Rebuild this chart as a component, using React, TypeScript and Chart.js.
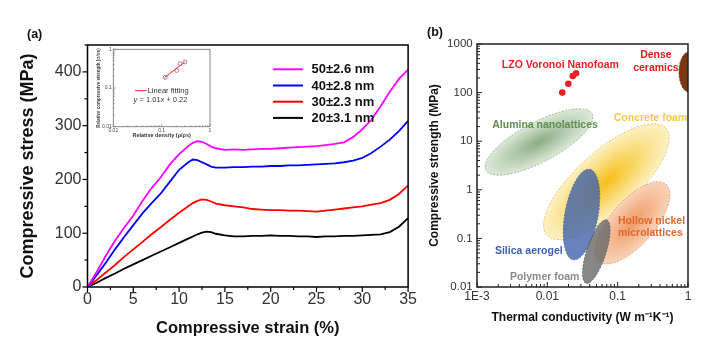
import React, { useEffect, useRef } from 'react';
import { Chart, registerables } from 'chart.js';

Chart.register(...registerables);

const FONT = "'Liberation Sans', Arial, Helvetica, sans-serif";
Chart.defaults.font.family = FONT;
Chart.defaults.color = '#333';

// ---------- Panel (a): stress-strain curves ----------
const strain = [0, 1, 2, 3, 4, 5, 6, 7, 8, 9, 10, 11, 11.5, 12, 12.5, 13, 13.5, 14, 15, 16, 17, 18, 19, 20, 21, 22, 23, 24, 25, 26, 27, 28, 29, 30, 31, 32, 33, 34, 35];
const stress50 = [0, 28, 58, 86, 110, 133, 160, 184, 204, 228, 247, 262, 268, 271, 270, 266, 261, 258, 255, 256, 255, 256, 257, 257, 258, 259, 260, 261, 262, 264, 266, 269, 279, 293, 311, 336, 363, 387, 404];
const stress40 = [0, 22, 45, 70, 93, 115, 137, 156, 174, 196, 218, 232, 237, 236, 232, 228, 224, 222, 222, 223, 223, 224, 224, 225, 225, 226, 226, 227, 228, 229, 230, 232, 235, 240, 249, 261, 274, 290, 309];
const stress30 = [0, 13, 27, 41, 56, 70, 84, 98, 111, 125, 138, 150, 156, 160, 163, 162, 159, 155, 152, 150, 148, 145, 144, 143, 143, 142, 142, 141, 140, 142, 144, 146, 148, 150, 153, 156, 162, 173, 189];
const stress20 = [0, 8, 17, 25, 34, 42, 50, 58, 66, 74, 82, 90, 94, 98, 101, 103, 102, 99, 96, 94, 94, 95, 95, 96, 95, 95, 94, 94, 93, 94, 94, 95, 95, 96, 97, 98, 102, 112, 128];
const seriesLabels = ['50±2.6 nm', '40±2.8 nm', '30±2.3 nm', '20±3.1 nm'];
const seriesColors = ['#ff00ff', '#0000ff', '#ff0000', '#000000'];
const seriesValues = [stress50, stress40, stress30, stress20];
const strainTicks = [0, 5, 10, 15, 20, 25, 30, 35];
const stressTicks = [0, 100, 200, 300, 400];

// ---------- Inset ----------
const relDensity = [0.119, 0.205, 0.24, 0.304];
const relStrength = [0.189, 0.284, 0.427, 0.471];
const fitDensity = [0.115, 0.3];
const fitStrength = [0.187, 0.465];

// ---------- Panel (b): Ashby-type map ----------
const lzoK = [0.0163, 0.0199, 0.023, 0.0256];
const lzoS = [100, 152, 220, 250];
const regionNames = ['Alumina nanolattices', 'Concrete foam', 'Hollow nickel microlattices', 'Silica aerogel', 'Polymer foam', 'Dense ceramics'];
const regionCenterK = [0.00762, 0.069, 0.1626, 0.0306, 0.0497, 1.034];
const regionCenterS = [9.63, 1.468, 0.2094, 0.31, 0.0532, 265];
const regionTipK = [0.0432, 0.4836, 0.487, 0.0402, 0.0697, 1.034];
const regionTipS = [36.6, 18.5, 1.298, 2.64, 0.239, 685];
const regionAspect = [0.33, 0.375, 0.43, 0.36, 0.29, 0.5];
const regionInner = ['#8cae86', '#f6c01a', '#f09a66', 'rgba(60,95,170,0.78)', 'rgba(100,100,100,0.78)', '#7a3810'];
const regionOuter = ['#dde9d9', '#fdf2c6', '#f9d3b8', 'rgba(60,95,170,0.78)', 'rgba(100,100,100,0.78)', '#7a3810'];
const regionEdge = ['#86a47f', '#e2b84a', '#dc8a5c', '#4a5f8a', '#5a5a5a', '#6a3010'];

const noteText = ['LZO Voronoi Nanofoam', 'Dense', 'ceramics', 'Alumina nanolattices', 'Concrete foam', 'Hollow nickel', 'microlattices', 'Silica aerogel', 'Polymer foam'];
const noteK = [0.0153, 0.35, 0.35, 0.00927, 0.293, 0.101, 0.101, 0.0018, 0.00294];
const noteS = [370, 594, 316, 21.5, 30, 0.231, 0.127, 0.055, 0.0163];
const noteAlign = ['center', 'center', 'center', 'center', 'center', 'left', 'left', 'left', 'left'];
const noteColor = ['#ea1f26', '#d8201f', '#d8201f', '#5f8d50', '#f4c945', '#e0692b', '#e0692b', '#3d5fb3', '#8a8a8a'];

const kTickValues = [0.001, 0.01, 0.1, 1];
const kTickLabels = ['1E-3', '0.01', '0.1', '1'];
const sTickValues = [0.01, 0.1, 1, 10, 100, 1000];
const sTickLabels = ['0.01', '0.1', '1', '10', '100', '1000'];
const insetTickValues = [0.01, 0.1, 1];
const insetTickLabels = ['0.01', '0.1', '1'];

function logMinor(min: number, max: number) {
  const out: number[] = [];
  for (let e = Math.floor(Math.log10(min)); e <= Math.ceil(Math.log10(max)); e++) {
    for (let m = 2; m <= 9; m++) {
      const v = m * Math.pow(10, e);
      if (v > min && v < max) out.push(v);
    }
  }
  return out;
}

function labelFor(values: number[], labels: string[]) {
  return (v: any) => {
    const n = Number(v);
    for (let i = 0; i < values.length; i++) {
      if (Math.abs(Math.log10(n) - Math.log10(values[i])) < 1e-6) return labels[i];
    }
    return '';
  };
}

// ---------- plugins ----------
const tickMarksPlugin = {
  id: 'tickMarks',
  afterDatasetsDraw(chart: any, _a: any, opts: any) {
    const { ctx, chartArea: ca } = chart;
    ctx.save();
    ctx.strokeStyle = opts.color || '#000';
    ctx.lineWidth = opts.width || 1;
    for (const spec of opts.specs || []) {
      const sc = chart.scales[spec.id];
      const horiz = sc.isHorizontal();
      const draw = (vals: number[], len: number) => {
        for (const v of vals) {
          const p = sc.getPixelForValue(v);
          ctx.beginPath();
          if (horiz) {
            const d = spec.inside ? -len : len;
            ctx.moveTo(p, ca.bottom);
            ctx.lineTo(p, ca.bottom + d);
          } else {
            const d = spec.inside ? len : -len;
            ctx.moveTo(ca.left, p);
            ctx.lineTo(ca.left + d, p);
          }
          ctx.stroke();
        }
      };
      draw(spec.major, spec.majLen);
      draw(spec.minor, spec.minLen);
    }
    ctx.restore();
  },
};

const framePlugin = {
  id: 'frame',
  afterDatasetsDraw(chart: any, _a: any, opts: any) {
    const { ctx, chartArea: ca } = chart;
    ctx.save();
    ctx.strokeStyle = opts.color || '#000';
    ctx.lineWidth = opts.width || 1;
    ctx.strokeRect(ca.left, ca.top, ca.right - ca.left, ca.bottom - ca.top);
    ctx.restore();
  },
};

const panelLabelPlugin = {
  id: 'panelLabel',
  afterDraw(chart: any, _a: any, opts: any) {
    if (!opts.text) return;
    const { ctx } = chart;
    ctx.save();
    ctx.font = `bold 12.5px ${FONT}`;
    ctx.fillStyle = '#111';
    ctx.textBaseline = 'middle';
    ctx.textAlign = 'left';
    ctx.fillText(opts.text, opts.x, opts.y);
    ctx.restore();
  },
};

const seriesLegendPlugin = {
  id: 'seriesLegend',
  afterDatasetsDraw(chart: any) {
    const { ctx, chartArea: ca } = chart;
    ctx.save();
    chart.data.datasets.forEach((ds: any, i: number) => {
      const y = ca.top + 24.3 + i * 16.2;
      ctx.strokeStyle = ds.borderColor;
      ctx.lineWidth = 2;
      ctx.beginPath();
      ctx.moveTo(ca.left + 185.5, y);
      ctx.lineTo(ca.left + 215.5, y);
      ctx.stroke();
      ctx.font = `bold 13px ${FONT}`;
      ctx.fillStyle = '#111';
      ctx.textBaseline = 'middle';
      ctx.textAlign = 'left';
      ctx.fillText(ds.label, ca.left + 224, y + 0.5);
    });
    ctx.restore();
  },
};

const regionsPlugin = {
  id: 'regions',
  beforeDatasetsDraw(chart: any) {
    const { ctx, chartArea: ca, scales } = chart;
    const xs = scales.x;
    const ys = scales.y;
    ctx.save();
    ctx.beginPath();
    ctx.rect(ca.left, ca.top, ca.right - ca.left, ca.bottom - ca.top);
    ctx.clip();
    for (let i = 0; i < regionNames.length; i++) {
      const cx = xs.getPixelForValue(regionCenterK[i]);
      const cy = ys.getPixelForValue(regionCenterS[i]);
      const tx = xs.getPixelForValue(regionTipK[i]);
      const ty = ys.getPixelForValue(regionTipS[i]);
      const a = Math.hypot(tx - cx, ty - cy);
      const ang = Math.atan2(ty - cy, tx - cx);
      const b = a * regionAspect[i];
      ctx.save();
      ctx.translate(cx, cy);
      ctx.rotate(ang);
      ctx.scale(1, b / a);
      const g = ctx.createRadialGradient(0, 0, 0, 0, 0, a);
      g.addColorStop(0, regionInner[i]);
      g.addColorStop(1, regionOuter[i]);
      ctx.beginPath();
      ctx.arc(0, 0, a, 0, Math.PI * 2);
      ctx.fillStyle = g;
      ctx.fill();
      ctx.restore();
      ctx.save();
      ctx.beginPath();
      ctx.ellipse(cx, cy, a, b, ang, 0, Math.PI * 2);
      ctx.setLineDash([2, 1.5]);
      ctx.strokeStyle = regionEdge[i];
      ctx.lineWidth = 0.8;
      ctx.stroke();
      ctx.restore();
    }
    ctx.restore();
  },
  afterDatasetsDraw(chart: any) {
    const { ctx, scales } = chart;
    ctx.save();
    ctx.font = `bold 10.5px ${FONT}`;
    ctx.textBaseline = 'middle';
    for (let i = 0; i < noteText.length; i++) {
      ctx.fillStyle = noteColor[i];
      ctx.textAlign = noteAlign[i] as CanvasTextAlign;
      ctx.fillText(noteText[i], scales.x.getPixelForValue(noteK[i]), scales.y.getPixelForValue(noteS[i]));
    }
    ctx.restore();
  },
};

const insetLegendPlugin = {
  id: 'insetLegend',
  afterDatasetsDraw(chart: any) {
    const { ctx, chartArea: ca } = chart;
    const y1 = ca.top + 41.4;
    ctx.save();
    ctx.strokeStyle = '#ff2020';
    ctx.lineWidth = 1;
    ctx.beginPath();
    ctx.moveTo(ca.left + 21.7, y1);
    ctx.lineTo(ca.left + 33.4, y1);
    ctx.stroke();
    ctx.fillStyle = '#333';
    ctx.textBaseline = 'middle';
    ctx.textAlign = 'left';
    ctx.font = `7.5px ${FONT}`;
    ctx.fillText('Linear fitting', ca.left + 34.4, y1);
    const y2 = ca.top + 50.7;
    const parts: [string, boolean][] = [['y', true], [' = 1.01', false], ['x', true], [' + 0.22', false]];
    let total = 0;
    for (const [t, it] of parts) {
      ctx.font = `${it ? 'italic ' : ''}7.5px ${FONT}`;
      total += ctx.measureText(t).width;
    }
    let x = ca.left + 47.2 - total / 2;
    for (const [t, it] of parts) {
      ctx.font = `${it ? 'italic ' : ''}7.5px ${FONT}`;
      ctx.fillText(t, x, y2);
      x += ctx.measureText(t).width;
    }
    ctx.restore();
  },
};

export default function App() {
  const refA = useRef<HTMLCanvasElement>(null);
  const refB = useRef<HTMLCanvasElement>(null);
  const refC = useRef<HTMLCanvasElement>(null);

  useEffect(() => {
    const charts: Chart[] = [];

    // ----- Panel (a) -----
    charts.push(
      new Chart(refA.current as HTMLCanvasElement, {
        type: 'line',
        data: {
          datasets: seriesValues.map((vals, i) => ({
            label: seriesLabels[i],
            data: strain.map((x, j) => ({ x, y: vals[j] })),
            borderColor: seriesColors[i],
            backgroundColor: seriesColors[i],
            borderWidth: 1.8,
            pointRadius: 0,
            tension: 0,
            fill: false,
          })),
        },
        options: {
          animation: false,
          responsive: false,
          devicePixelRatio: 1,
          layout: { padding: { left: 0, top: 45, right: 5.5, bottom: 0 } },
          plugins: {
            legend: { display: false },
            tooltip: { enabled: false },
            tickMarks: {
              color: '#000',
              width: 1.2,
              specs: [
                { id: 'x', major: strainTicks, minor: strainTicks.slice(0, -1).map((v) => v + 2.5), majLen: 5, minLen: 3, inside: false },
                { id: 'y', major: stressTicks, minor: stressTicks.map((v) => v + 50), majLen: 5, minLen: 3, inside: false },
              ],
            },
            frame: { color: '#000', width: 1.5 },
            panelLabel: { text: '(a)', x: 27, y: 35 },
          } as any,
          scales: {
            x: {
              type: 'linear',
              min: 0,
              max: 35,
              grid: { display: false, drawTicks: false },
              border: { display: false },
              ticks: { stepSize: 5, font: { size: 16 }, color: '#333', padding: 3, maxRotation: 0, autoSkip: false },
              title: { display: true, text: 'Compressive strain (%)', font: { size: 16.5, weight: 'bold' }, color: '#111', padding: { top: 0, bottom: 13.8 } },
              afterFit: (s: any) => { s.height = 65; },
            },
            y: {
              type: 'linear',
              min: 0,
              max: 450,
              grid: { display: false, drawTicks: false },
              border: { display: false },
              ticks: { stepSize: 100, includeBounds: false, font: { size: 16 }, color: '#333', padding: 6, autoSkip: false },
              title: { display: true, text: 'Compressive stress (MPa)', font: { size: 18, weight: 'bold' }, color: '#111', padding: { top: 17.5, bottom: 0 } },
              afterFit: (s: any) => { s.width = 87.5; },
            },
          } as any,
        },
        plugins: [tickMarksPlugin, framePlugin, panelLabelPlugin, seriesLegendPlugin],
      } as any)
    );

    // ----- Inset -----
    charts.push(
      new Chart(refC.current as HTMLCanvasElement, {
        type: 'scatter',
        data: {
          datasets: [
            {
              label: 'Linear fitting',
              data: fitDensity.map((x, i) => ({ x, y: fitStrength[i] })),
              showLine: true,
              borderColor: '#ff2020',
              borderWidth: 1,
              pointRadius: 0,
            },
            {
              label: 'data',
              data: relDensity.map((x, i) => ({ x, y: relStrength[i] })),
              showLine: false,
              borderColor: '#8a7070',
              backgroundColor: 'rgba(255,255,255,0)',
              borderWidth: 0.8,
              pointRadius: 2,
            },
          ],
        },
        options: {
          animation: false,
          responsive: false,
          devicePixelRatio: 1,
          layout: { padding: { left: 0, top: 5.3, right: 10, bottom: 0 } },
          plugins: {
            legend: { display: false },
            tooltip: { enabled: false },
            tickMarks: {
              color: '#666',
              width: 0.6,
              specs: [
                { id: 'x', major: insetTickValues, minor: logMinor(0.01, 1), majLen: 2.5, minLen: 1.5, inside: true },
                { id: 'y', major: insetTickValues, minor: logMinor(0.01, 1), majLen: 2.5, minLen: 1.5, inside: true },
              ],
            },
            frame: { color: '#7a7a7a', width: 0.9 },
          } as any,
          scales: {
            x: {
              type: 'logarithmic',
              min: 0.01,
              max: 1,
              grid: { display: false, drawTicks: false },
              border: { display: false },
              ticks: { font: { size: 5 }, color: '#444', padding: 0.5, autoSkip: false, maxRotation: 0, callback: labelFor(insetTickValues, insetTickLabels) },
              title: { display: true, text: 'Relative density (ρ/ρs)', font: { size: 5.5, weight: 'bold' }, color: '#333', padding: { top: 0, bottom: 5.7 } },
              afterFit: (s: any) => { s.height = 17.3; },
            },
            y: {
              type: 'logarithmic',
              min: 0.01,
              max: 1,
              grid: { display: false, drawTicks: false },
              border: { display: false },
              ticks: { font: { size: 5 }, color: '#444', padding: 1.5, autoSkip: false, callback: labelFor(insetTickValues, insetTickLabels) },
              title: { display: true, text: 'Relative compressive strength (σ/σs)', font: { size: 4.5, weight: 'bold' }, color: '#444', padding: { top: 5.6, bottom: 0 } },
              afterFit: (s: any) => { s.width = 23.3; },
            },
          } as any,
        },
        plugins: [tickMarksPlugin, framePlugin, insetLegendPlugin],
      } as any)
    );

    // ----- Panel (b) -----
    charts.push(
      new Chart(refB.current as HTMLCanvasElement, {
        type: 'scatter',
        data: {
          datasets: [
            {
              label: 'LZO Voronoi Nanofoam',
              data: lzoK.map((x, i) => ({ x, y: lzoS[i] })),
              backgroundColor: '#ee1d23',
              borderWidth: 0,
              pointRadius: 3.3,
            },
          ],
        },
        options: {
          animation: false,
          responsive: false,
          devicePixelRatio: 1,
          layout: { padding: { left: 0, top: 44, right: 26, bottom: 0 } },
          plugins: {
            legend: { display: false },
            tooltip: { enabled: false },
            tickMarks: {
              color: '#222',
              width: 1,
              specs: [
                { id: 'x', major: kTickValues, minor: logMinor(0.001, 1), majLen: 5, minLen: 3, inside: true },
                { id: 'y', major: sTickValues, minor: logMinor(0.01, 1000), majLen: 5, minLen: 3, inside: true },
              ],
            },
            frame: { color: '#222', width: 1.5 },
            panelLabel: { text: '(b)', x: 7, y: 33 },
          } as any,
          scales: {
            x: {
              type: 'logarithmic',
              min: 0.001,
              max: 1,
              grid: { display: false, drawTicks: false },
              border: { display: false },
              ticks: { font: { size: 12 }, color: '#333', padding: 2.5, autoSkip: false, maxRotation: 0, callback: labelFor(kTickValues, kTickLabels) },
              title: { display: true, text: 'Thermal conductivity (W m⁻¹K⁻¹)', font: { size: 12, weight: 'bold' }, color: '#111', padding: { top: 0, bottom: 27.5 } },
              afterFit: (s: any) => { s.height = 65; },
            },
            y: {
              type: 'logarithmic',
              min: 0.01,
              max: 1000,
              grid: { display: false, drawTicks: false },
              border: { display: false },
              ticks: { font: { size: 11.5 }, color: '#333', padding: 4.3, autoSkip: false, callback: labelFor(sTickValues, sTickLabels) },
              title: { display: true, text: 'Compressive strength (MPa)', font: { size: 12, weight: 'bold' }, color: '#111', padding: { top: 7.8, bottom: 0 } },
              afterFit: (s: any) => { s.width = 57; },
            },
          } as any,
        },
        plugins: [regionsPlugin, tickMarksPlugin, framePlugin, panelLabelPlugin],
      } as any)
    );

    return () => charts.forEach((c) => c.destroy());
  }, []);

  return (
    <div style={{ position: 'absolute', left: 0, top: 0, width: 714, height: 352, background: '#fff', overflow: 'hidden' }}>
      <canvas ref={refA} width={420} height={352} style={{ position: 'absolute', left: 0, top: 0, width: 420, height: 352 }} />
      <canvas ref={refB} width={294} height={352} style={{ position: 'absolute', left: 420, top: 0, width: 294, height: 352 }} />
      <canvas ref={refC} width={130} height={100} style={{ position: 'absolute', left: 90, top: 44, width: 130, height: 100 }} />
    </div>
  );
}
